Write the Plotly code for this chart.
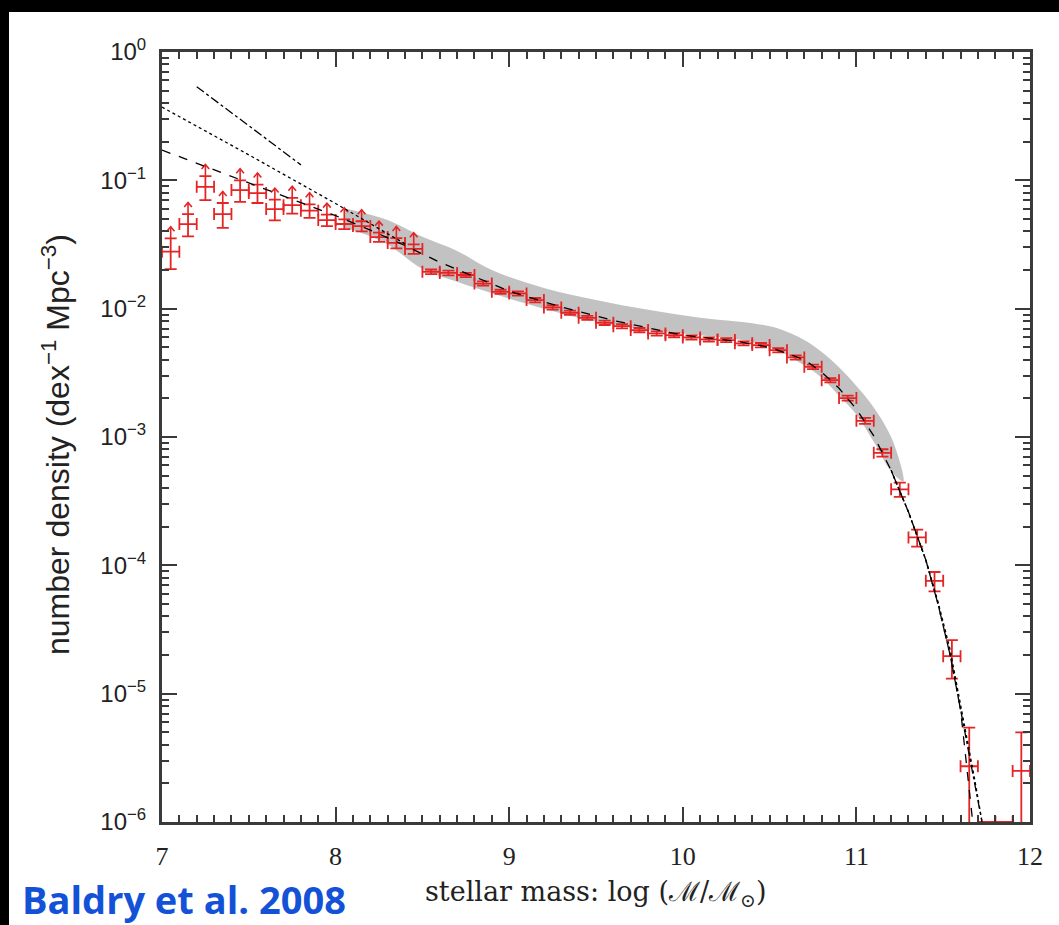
import numpy as np
import plotly.graph_objects as go

# ---------------- data ----------------
mass = [7.05, 7.15, 7.25, 7.35, 7.45, 7.55, 7.65, 7.75, 7.85, 7.95,
        8.05, 8.15, 8.25, 8.35, 8.45, 8.55, 8.65, 8.75, 8.85, 8.95,
        9.05, 9.15, 9.25, 9.35, 9.45, 9.55, 9.65, 9.75, 9.85, 9.95,
        10.05, 10.15, 10.25, 10.35, 10.45, 10.55, 10.65, 10.75, 10.85, 10.95,
        11.05, 11.15, 11.25, 11.35, 11.45, 11.55, 11.65, 11.75, 11.85, 11.95]
phi = [0.0278, 0.0456, 0.0890, 0.0546, 0.0840, 0.0796, 0.0597, 0.0640, 0.0580, 0.0490,
       0.0457, 0.0440, 0.0361, 0.0325, 0.0292, 0.0194, 0.0190, 0.0183, 0.0157, 0.01354,
       0.01315, 0.01166, 0.01023, 0.00929, 0.00849, 0.00776, 0.00731, 0.00681, 0.00641, 0.00622,
       0.00597, 0.00576, 0.00569, 0.00537, 0.00520, 0.00475, 0.00417, 0.00352, 0.00277, 0.00201,
       0.001337, 0.000753, 0.000391, 0.000165, 7.57e-5, 1.96e-5, 2.72e-6, 1.0e-6, 1.0e-6, 2.5e-6]
phi_err = [0.0075, 0.009, 0.019, 0.012, 0.016, 0.013, 0.011, 0.009, 0.007, 0.005,
           0.004, 0.004, 0.003, 0.003, 0.0025, 0.0008, 0.0008, 0.0007, 0.0006, 0.0005,
           0.0005, 0.00045, 0.0004, 0.00035, 0.0003, 0.0003, 0.00028, 0.00026, 0.00024, 0.00023,
           0.00022, 0.00021, 0.00021, 0.0002, 0.0002, 0.00018, 0.00016, 0.00014, 0.00011, 0.00009,
           0.00007, 0.00005, 0.00005, 0.000025, 0.000013, 6.5e-6, 2.72e-6, 0.0, 0.0, 2.5e-6]
bin_half = [0.05] * len(mass)
n_lower_limits = 15  # first 15 points carry upward arrows

band_mass = [8.05, 8.15, 8.3, 8.5, 8.7, 8.9, 9.2, 9.5, 9.8, 10.1, 10.4, 10.55, 10.7,
             10.8, 10.9, 11.0, 11.1, 11.2, 11.27]
band_hi = [0.0603, 0.0562, 0.0490, 0.0363, 0.0282, 0.0200, 0.0145, 0.0117, 0.0098,
           0.0085, 0.0077, 0.0070, 0.0057, 0.0046, 0.0035, 0.0025, 0.0017, 0.00100, 0.00050]
band_lo = [0.0427, 0.0389, 0.0316, 0.0204, 0.0162, 0.0132, 0.0100, 0.0079, 0.0068,
           0.0062, 0.0055, 0.0047, 0.0036, 0.0029, 0.0021, 0.00150, 0.00092, 0.00054, 0.00045]

fit_dash_x = [7.0, 7.5, 8.0, 8.2, 8.4, 8.6, 9.0, 9.3, 9.6, 10.0, 10.3, 10.5, 10.7,
              10.8, 10.9, 11.0, 11.1, 11.2, 11.3, 11.4, 11.47, 11.54, 11.6, 11.67]
fit_dash_y = [0.172, 0.096, 0.053, 0.041, 0.031, 0.023, 0.0137, 0.0103, 0.0081, 0.0062,
              0.0056, 0.0050, 0.0040, 0.0032, 0.0024, 0.00165, 0.00102, 0.00055, 0.00026,
              0.00011, 5.0e-5, 2.0e-5, 7.5e-6, 1.0e-6]
fit_dot_x = [7.0, 7.5, 8.0, 8.2, 8.4, None, 11.2, 11.3, 11.4, 11.47, 11.54, 11.61, 11.68, 11.73]
fit_dot_y = [0.372, 0.158, 0.066, 0.046, 0.032, None, 0.00055, 0.00026,
             0.00011, 5.2e-5, 2.2e-5, 7.0e-6, 2.2e-6, 9.0e-7]
fit_dashdot_x = [7.2, 7.5, 7.8, None, 11.2, 11.3, 11.4, 11.47, 11.54, 11.61, 11.7, 11.73]
fit_dashdot_y = [0.537, 0.265, 0.132, None, 0.00055, 0.00026,
                 0.00011, 5.0e-5, 2.0e-5, 6.3e-6, 1.5e-6, 9.0e-7]

y_tickvals = [1, 1e-1, 1e-2, 1e-3, 1e-4, 1e-5, 1e-6]
y_ticktext = ["10<sup>0</sup>", "10<sup>\u22121</sup>", "10<sup>\u22122</sup>",
              "10<sup>\u22123</sup>", "10<sup>\u22124</sup>", "10<sup>\u22125</sup>",
              "10<sup>\u22126</sup>"]
x_tickvals = [7, 8, 9, 10, 11, 12]

RED = "#e42525"
AX = "#3a3a3a"

fig = go.Figure()

# shaded band
fig.add_trace(go.Scatter(
    x=band_mass + band_mass[::-1], y=band_hi + band_lo[::-1],
    fill="toself", fillcolor="#c2c2c2", line=dict(width=0, shape="spline"),
    mode="lines", hoverinfo="skip", showlegend=False))

# data with error bars
fig.add_trace(go.Scatter(
    x=mass, y=phi, mode="markers",
    marker=dict(size=1, color=RED),
    error_x=dict(type="data", array=bin_half, color=RED, thickness=1.8, width=6),
    error_y=dict(type="data", array=phi_err, color=RED, thickness=1.8, width=6),
    showlegend=False, cliponaxis=True))

# upward arrows on lower-limit points: stem + chevron head
arr_x, arr_y = [], []
for i in range(n_lower_limits):
    top = phi[i] + phi_err[i]
    tip = top * 10 ** 0.09
    wing = tip * 10 ** -0.035
    arr_x += [mass[i], mass[i], None,
              mass[i] - 0.022, mass[i], mass[i] + 0.022, None]
    arr_y += [top, tip, None, wing, tip, wing, None]
fig.add_trace(go.Scatter(x=arr_x, y=arr_y, mode="lines", connectgaps=False,
                         line=dict(color=RED, width=1.6), showlegend=False,
                         hoverinfo="skip"))

# fit lines
for xs, ys, dash in [(fit_dash_x, fit_dash_y, "dash"),
                     (fit_dot_x, fit_dot_y, "dot"),
                     (fit_dashdot_x, fit_dashdot_y, "dashdot")]:
    fig.add_trace(go.Scatter(x=xs, y=ys, mode="lines", connectgaps=False,
                             line=dict(color="black", width=1.3, dash=dash),
                             showlegend=False, hoverinfo="skip"))

W, H = 1059, 925
L, R, T, B = 162, 29, 52, 103
pw, ph = W - L - R, H - T - B

def px(xp):
    return (xp - L) / pw

def py(yp):
    return (H - B - yp) / ph

annotations = [
    dict(text="number density (dex<sup>\u22121</sup> Mpc<sup>\u22123</sup>)",
         xref="paper", yref="paper", x=px(56), y=py(445), textangle=-90,
         showarrow=False, xanchor="center", yanchor="middle",
         font=dict(family="Liberation Sans", size=32, color="#222")),
    dict(text="stellar mass: log (\u2133/\u2133<sub>\u2299</sub>)",
         xref="paper", yref="paper", x=px(595), y=py(893),
         showarrow=False, xanchor="center", yanchor="middle",
         font=dict(family="DejaVu Serif", size=27, color="#222")),
    dict(text="<b>Baldry et al. 2008</b>",
         xref="paper", yref="paper", x=px(20), y=py(899),
         showarrow=False, xanchor="left", yanchor="middle",
         font=dict(family="Open Sans", size=38, color="#1352d6")),
]

shapes = [
    dict(type="rect", xref="paper", yref="paper", x0=px(-5), x1=px(W + 5),
         y0=py(12), y1=py(-5), fillcolor="black", line=dict(width=0), layer="above"),
    dict(type="rect", xref="paper", yref="paper", x0=px(-5), x1=px(9),
         y0=py(H + 5), y1=py(-5), fillcolor="black", line=dict(width=0), layer="above"),
]

fig.update_layout(
    width=W, height=H,
    margin=dict(l=L, r=R, t=T, b=B, autoexpand=False),
    paper_bgcolor="white", plot_bgcolor="white",
    annotations=annotations, shapes=shapes, showlegend=False,
)
fig.update_xaxes(
    range=[7, 12], tickvals=x_tickvals, ticks="inside", ticklen=15, tickwidth=2,
    tickcolor=AX, showline=True, linecolor=AX, linewidth=3, mirror="allticks",
    showgrid=False, zeroline=False, ticklabelstandoff=9,
    tickfont=dict(family="Liberation Serif", size=26, color="#222"),
    minor=dict(dtick=0.1, ticks="inside", ticklen=7, tickwidth=1.5, tickcolor=AX,
               showgrid=False))
fig.update_yaxes(
    type="log", range=[-6, 0], tickvals=y_tickvals, ticktext=y_ticktext,
    ticks="inside", ticklen=15, tickwidth=2, tickcolor=AX, showline=True,
    linecolor=AX, linewidth=3, mirror="allticks", showgrid=False, zeroline=False,
    ticklabelstandoff=8,
    tickfont=dict(family="Liberation Sans", size=24, color="#222"),
    minor=dict(dtick="D1", ticks="inside", ticklen=7, tickwidth=1.5, tickcolor=AX,
               showgrid=False))

fig.write_html("out.html")
